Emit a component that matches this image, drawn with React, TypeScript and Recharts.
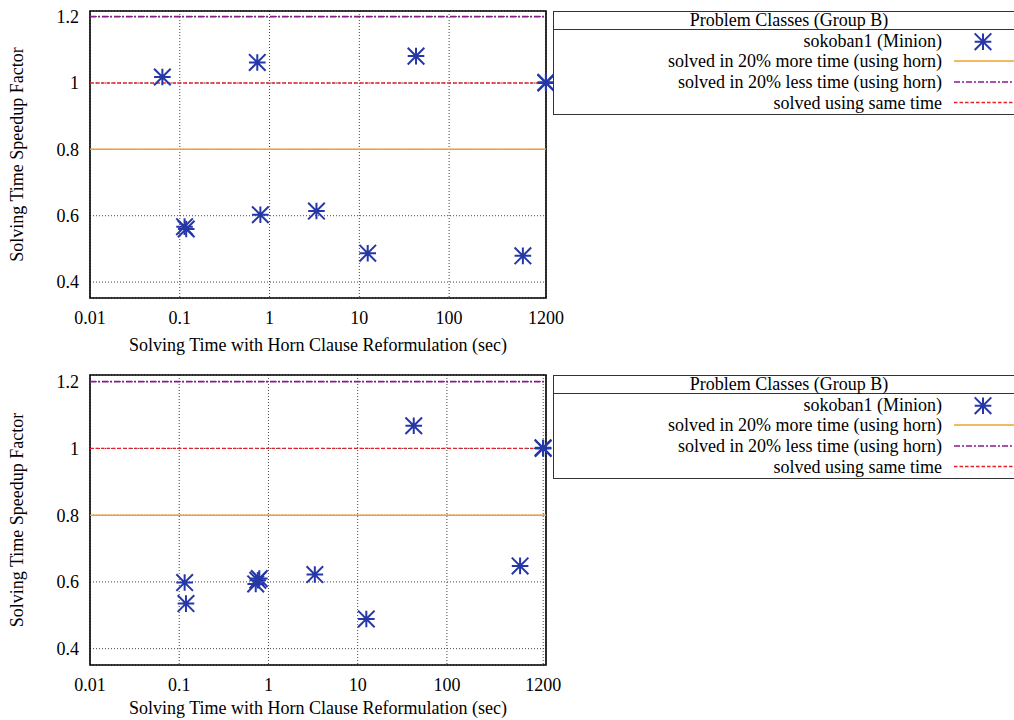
import React from 'react';
import {
  ScatterChart,
  Scatter,
  XAxis,
  YAxis,
  CartesianGrid,
  ReferenceLine,
  ReferenceArea,
  Legend,
} from 'recharts';

const FONT = '"Liberation Serif", "Times New Roman", serif';
const BLUE = '#2637a8';
const ORANGE = '#f0a030';
const PURPLE = '#8b1a8b';
const RED = '#e8202a';

// ---- data ----
const xTicks = [0.01, 0.1, 1, 10, 100, 1200];
const xTickLabels = ['0.01', '0.1', '1', '10', '100', '1200'];
const yTicks = [0.4, 0.6, 0.8, 1, 1.2];
const yTickLabels = ['0.4', '0.6', '0.8', '1', '1.2'];

const topTimes = [0.064, 0.73, 42.8, 1200, 1195, 0.113, 0.118, 0.79, 3.33, 12.4, 663];
const topSpeedups = [1.018, 1.062, 1.081, 1.0, 1.002, 0.567, 0.56, 0.603, 0.614, 0.487, 0.479];

const bottomTimes = [0.115, 0.119, 0.72, 0.76, 0.79, 3.31, 12.5, 42.5, 661, 1200, 1195];
const bottomSpeedups = [0.598, 0.535, 0.594, 0.605, 0.61, 0.622, 0.489, 1.068, 0.648, 1.0, 1.002];

const moreTimeLevel = 0.8;
const lessTimeLevel = 1.2;
const sameTimeLevel = 1.0;

const legendTitle = 'Problem Classes (Group B)';
const seriesName = 'sokoban1 (Minion)';
const moreTimeLabel = 'solved in 20% more time (using horn)';
const lessTimeLabel = 'solved in 20% less time (using horn)';
const sameTimeLabel = 'solved using same time';

const xLabel = 'Solving Time with Horn Clause Reformulation (sec)';
const yLabel = 'Solving Time Speedup Factor';

const topXDomain: [number, number] = [0.01, 1200];
const topYDomain: [number, number] = [0.352, 1.217];
const bottomXDomain: [number, number] = [0.01, 1290];
const bottomYDomain: [number, number] = [0.351, 1.22];

// ---- helpers ----
const starPath = (cx: number, cy: number, r: number) =>
  `M${cx - r},${cy}L${cx + r},${cy}M${cx},${cy - r}L${cx},${cy + r}` +
  `M${cx - r},${cy - r}L${cx + r},${cy + r}M${cx - r},${cy + r}L${cx + r},${cy - r}`;

const Star = (props: any) => {
  const { cx, cy } = props;
  if (cx == null || cy == null || isNaN(cx) || isNaN(cy)) return null;
  return <path d={starPath(cx, cy, 8.3)} stroke={BLUE} strokeWidth={2} fill="none" />;
};

const fmt = (labels: string[], ticks: number[]) => (v: number) => {
  const i = ticks.findIndex((t) => Math.abs(t - v) < 1e-9 * Math.max(1, Math.abs(t)));
  return i >= 0 ? labels[i] : String(v);
};

const textStyle = { fontFamily: FONT, fontSize: 18, fill: '#000' };

const LegendBox = () => {
  const rowsBase = [35.7, 56.3, 76.9, 97.5];
  const textX = 389;
  const sampleX1 = 401;
  const sampleX2 = 470;
  return (
    <svg width={461} height={106} style={{ display: 'block', overflow: 'hidden' }}>
      <rect x={0.5} y={0.5} width={490} height={103} fill="#fff" stroke="#333" strokeWidth={1} />
      <line x1={0} x2={461} y1={18.5} y2={18.5} stroke="#333" strokeWidth={1} />
      <text x={236} y={14.7} textAnchor="middle" style={textStyle}>
        {legendTitle}
      </text>
      <text x={textX} y={rowsBase[0]} textAnchor="end" style={textStyle}>
        {seriesName}
      </text>
      <path d={starPath(430, 30.7, 8.3)} stroke={BLUE} strokeWidth={2} fill="none" />
      <text x={textX} y={rowsBase[1]} textAnchor="end" style={textStyle}>
        {moreTimeLabel}
      </text>
      <line x1={sampleX1} x2={sampleX2} y1={50} y2={50} stroke={ORANGE} strokeWidth={1.5} />
      <text x={textX} y={rowsBase[2]} textAnchor="end" style={textStyle}>
        {lessTimeLabel}
      </text>
      <line x1={sampleX1} x2={sampleX2} y1={71} y2={71} stroke={PURPLE} strokeWidth={1.6} strokeDasharray="6 2 2 2" />
      <text x={textX} y={rowsBase[3]} textAnchor="end" style={textStyle}>
        {sameTimeLabel}
      </text>
      <line x1={sampleX1} x2={sampleX2} y1={91.5} y2={91.5} stroke={RED} strokeWidth={1.4} strokeDasharray="3.5 2" />
    </svg>
  );
};

const YLabelContent = (props: any) => {
  const vb = props.viewBox || { x: 0, y: 11, width: 90, height: 287 };
  const x = vb.x + 17;
  const y = vb.y + vb.height / 2;
  return (
    <text x={x} y={y} transform={`rotate(-90 ${x} ${y})`} textAnchor="middle" dy="0.33em" style={textStyle}>
      {yLabel}
    </text>
  );
};

const makeXLabel = (offset: number) => (props: any) => {
  const vb = props.viewBox || { x: 90, y: 298, width: 456, height: 66 };
  const x = vb.x + vb.width / 2;
  const y = vb.y + offset;
  return (
    <text x={x} y={y} textAnchor="middle" dy="0.33em" style={textStyle}>
      {xLabel}
    </text>
  );
};

type PanelProps = {
  times: number[];
  speedups: number[];
  xDomain: [number, number];
  yDomain: [number, number];
  height: number;
  xAxisHeight: number;
  xLabelOffset: number;
};

const Panel = ({ times, speedups, xDomain, yDomain, height, xAxisHeight, xLabelOffset }: PanelProps) => {
  const data = times.map((t, i) => ({ time: t, speedup: speedups[i] }));
  return (
    <ScatterChart
      width={1014}
      height={height}
      margin={{ top: 11, right: 468, bottom: 0, left: 0 }}
      style={{ fontFamily: FONT }}
    >
      <CartesianGrid stroke="#444" strokeDasharray="1 2" strokeWidth={1} />
      <XAxis
        dataKey="time"
        type="number"
        scale="log"
        domain={xDomain}
        ticks={xTicks}
        tickFormatter={fmt(xTickLabels, xTicks)}
        height={xAxisHeight}
        tickSize={0}
        tickMargin={13}
        axisLine={false}
        tick={textStyle}
        interval={0}
        label={{ content: makeXLabel(xLabelOffset) }}
      />
      <YAxis
        dataKey="speedup"
        type="number"
        domain={yDomain}
        ticks={yTicks}
        tickFormatter={fmt(yTickLabels, yTicks)}
        width={90}
        tickSize={0}
        tickMargin={11}
        axisLine={false}
        tick={textStyle}
        interval={0}
        label={{ content: YLabelContent }}
      />
      <ReferenceLine y={moreTimeLevel} stroke={ORANGE} strokeWidth={1.5} />
      <ReferenceLine y={lessTimeLevel} stroke={PURPLE} strokeWidth={1.6} strokeDasharray="6 2 2 2" />
      <ReferenceLine y={sameTimeLevel} stroke={RED} strokeWidth={1.4} strokeDasharray="3.5 2" />
      <ReferenceArea
        x1={xDomain[0]}
        x2={xDomain[1]}
        y1={yDomain[0]}
        y2={yDomain[1]}
        fill="none"
        fillOpacity={0}
        stroke="#000"
        strokeWidth={1.6}
        ifOverflow="visible"
      />
      <Scatter data={data} shape={Star} isAnimationActive={false} />
      <Legend
        layout="vertical"
        align="center"
        verticalAlign="middle"
        content={() => <LegendBox />}
        wrapperStyle={{ position: 'absolute', left: 553, top: 11, width: 461, height: 106, margin: 0, padding: 0 }}
      />
    </ScatterChart>
  );
};

export default function App() {
  return (
    <div
      style={{
        position: 'absolute',
        left: 0,
        top: 0,
        width: 1014,
        height: 720,
        background: '#fff',
        overflow: 'hidden',
      }}
    >
      <div style={{ position: 'absolute', left: 0, top: 0 }}>
        <Panel
          times={topTimes}
          speedups={topSpeedups}
          xDomain={topXDomain}
          yDomain={topYDomain}
          height={364}
          xAxisHeight={66}
          xLabelOffset={47}
        />
      </div>
      <div style={{ position: 'absolute', left: 0, top: 364 }}>
        <Panel
          times={bottomTimes}
          speedups={bottomSpeedups}
          xDomain={bottomXDomain}
          yDomain={bottomYDomain}
          height={356}
          xAxisHeight={55}
          xLabelOffset={43}
        />
      </div>
    </div>
  );
}
